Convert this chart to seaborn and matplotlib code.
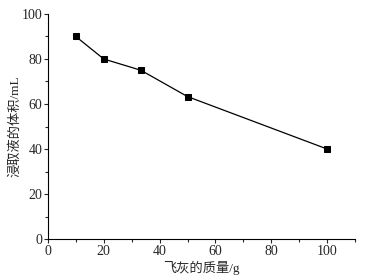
import matplotlib
matplotlib.use('Agg')
import matplotlib.pyplot as plt
import seaborn as sns
import pandas as pd
from matplotlib.ticker import MultipleLocator

ash_mass = [10, 20, 33.3, 50, 100]
leach_volume = [90, 80, 75, 63.3, 40]

df = pd.DataFrame({'mass': ash_mass, 'volume': leach_volume})

sns.set_style('white')
plt.rcParams['font.family'] = ['Liberation Serif', 'Noto Sans CJK SC', 'DejaVu Sans']

fig = plt.figure(figsize=(3.68, 2.79), dpi=100)
ax = fig.add_axes([0.13, 0.143, 0.835, 0.807])

sns.lineplot(data=df, x='mass', y='volume', ax=ax, color='black', linewidth=0.9,
             marker='s', markersize=4.5, markeredgecolor='black', markerfacecolor='black')

ax.set_xlim(0, 110)
ax.set_ylim(0, 100)
ax.xaxis.set_major_locator(MultipleLocator(20))
ax.xaxis.set_minor_locator(MultipleLocator(10))
ax.yaxis.set_major_locator(MultipleLocator(20))
ax.yaxis.set_minor_locator(MultipleLocator(10))
ax.tick_params(which='major', direction='out', length=3, width=0.8, labelsize=10, pad=1)
ax.tick_params(which='minor', direction='out', length=2, width=0.8)
ax.tick_params(bottom=True, left=True, which='both')
sns.despine(ax=ax)
for s in ['left', 'bottom']:
    ax.spines[s].set_color('black')
    ax.spines[s].set_linewidth(0.8)

ax.set_xlabel('飞灰的质量/g', fontsize=9.5, labelpad=2)
ax.set_ylabel('浸取液的体积/mL', fontsize=9.5, labelpad=0)

fig.savefig('out.png', dpi=100)
plt.close()
